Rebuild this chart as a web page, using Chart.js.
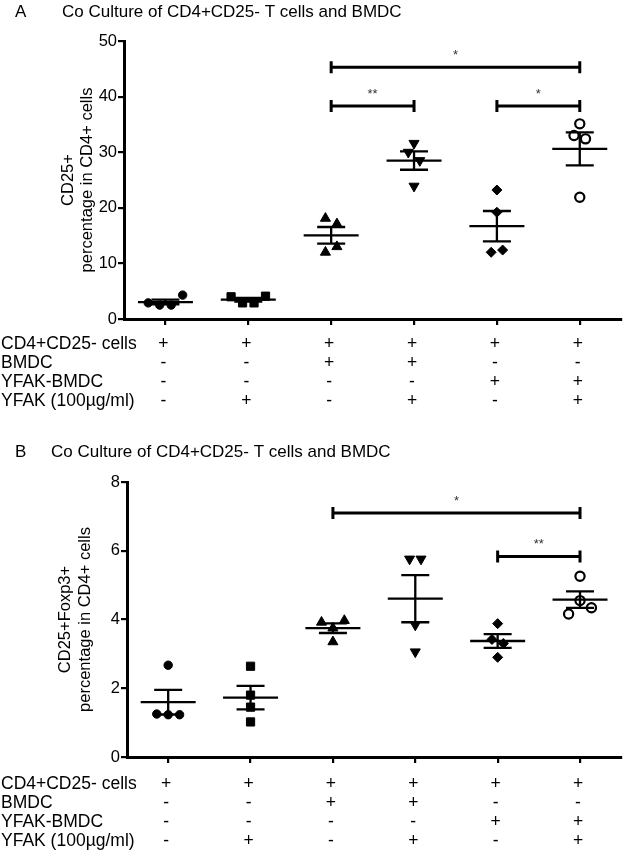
<!DOCTYPE html>
<html>
<head>
<meta charset="utf-8">
<script src="https://cdn.jsdelivr.net/npm/chart.js@4.4.1/dist/chart.umd.min.js"></script>
<style>
  body { margin: 0; background: #fff; width: 628px; height: 852px; overflow: hidden; }
  .panel { position: absolute; left: 0; width: 628px; height: 426px; }
</style>
</head>
<body>
<div class="panel" style="top:0"><canvas id="chartA"></canvas></div>
<div class="panel" style="top:426px"><canvas id="chartB"></canvas></div>
<script>
// --- data ---
const titleText = 'Co Culture of CD4+CD25- T cells and BMDC';
const conditions = ['CD4+CD25- cells', 'BMDC', 'YFAK-BMDC', 'YFAK (100µg/ml)'];
const conditionSigns = [
  ['+', '+', '+', '+', '+', '+'],
  ['-', '-', '+', '+', '-', '-'],
  ['-', '-', '-', '-', '+', '+'],
  ['-', '+', '-', '+', '-', '+']
];

// panel A: CD25+ % in CD4+ cells, one list per group
const cd25Values = [
  [2.9, 2.5, 2.5, 4.3],
  [4.0, 2.9, 2.9, 4.1],
  [18.1, 17.1, 12.0, 13.0],
  [31.6, 30.0, 28.5, 23.9],
  [23.2, 19.2, 12.0, 12.4],
  [35.1, 33.0, 32.4, 21.9]
];
const cd25Ticks = [0, 10, 20, 30, 40, 50];
const cd25Brackets = [
  { from: 2, to: 5, y: 45.3, label: '*' },
  { from: 2, to: 3, y: 38.3, label: '**' },
  { from: 4, to: 5, y: 38.3, label: '*' }
];

// panel B: CD25+Foxp3+ % in CD4+ cells
const foxp3Values = [
  [2.67, 1.25, 1.23, 1.23],
  [2.64, 1.80, 1.45, 1.02],
  [3.92, 3.75, 3.97, 3.35],
  [5.76, 5.76, 3.84, 3.06],
  [3.88, 3.42, 3.30, 2.90],
  [4.16, 4.55, 4.34, 5.26]
];
const foxp3Ticks = [0, 2, 4, 6, 8];
const foxp3Brackets = [
  { from: 2, to: 5, y: 7.1, label: '*' },
  { from: 4, to: 5, y: 5.83, label: '**' }
];

// marker per group
const markers = [
  { style: 'circle', radius: 4.2, rot: 0, fill: '#000' },
  { style: 'rect', radius: 5.8, rot: 0, fill: '#000' },
  { style: 'triangle', radius: 5.8, rot: 0, fill: '#000' },
  { style: 'triangle', radius: 5.8, rot: 180, fill: '#000' },
  { style: 'rectRot', radius: 5, rot: 0, fill: '#000' },
  { style: 'circle', radius: 4.6, rot: 0, fill: 'rgba(0,0,0,0)' }
];

const FONT = "'Liberation Sans', Arial, sans-serif";

// spread points that sit on top of each other (like a dot plot)
function spread(values, pxPerUnit) {
  const idx = values.map((v, i) => i).sort((a, b) => values[a] - values[b]);
  const offsets = values.map(() => 0);
  let bin = [idx[0]];
  const flush = () => {
    const m = bin.slice().sort((a, b) => a - b);
    m.forEach((k, j) => { offsets[k] = (j - (m.length - 1) / 2) * 11.5; });
  };
  for (let k = 1; k < idx.length; k++) {
    if ((values[idx[k]] - values[idx[k - 1]]) * pxPerUnit < 8.5) bin.push(idx[k]);
    else { flush(); bin = [idx[k]]; }
  }
  flush();
  return offsets;
}

function meanSem(vals) {
  const n = vals.length;
  const m = vals.reduce((a, b) => a + b, 0) / n;
  const sd = Math.sqrt(vals.reduce((a, b) => a + (b - m) * (b - m), 0) / (n - 1));
  return [m, sd / Math.sqrt(n)];
}

function makePanel(id, p) {
  const H = 426;
  const plotH = p.bottom - p.top;
  const plotW = 628 - p.right - p.left;
  const pxX = plotW / 6;
  const pxY = plotH / (p.ticks[p.ticks.length - 1] - p.ticks[0]);

  const datasets = p.values.map((vals, g) => {
    const off = spread(vals, pxY);
    const mk = markers[g];
    return {
      data: vals.map((v, k) => ({ x: g + off[k] / pxX, y: v })),
      pointStyle: mk.style,
      pointRadius: mk.radius,
      pointRotation: mk.rot,
      pointBackgroundColor: mk.fill,
      pointBorderColor: '#000',
      pointBorderWidth: g == 5 ? 2.2 : 1,
      showLine: false
    };
  });

  const decor = {
    id: 'decor' + id,
    afterDatasetsDraw(chart) {
      const ctx = chart.ctx, xs = chart.scales.x, ys = chart.scales.y;
      ctx.save();
      ctx.strokeStyle = '#000';
      ctx.lineWidth = 2.3;
      // mean +/- SEM
      p.values.forEach((vals, g) => {
        const [m, s] = meanSem(vals);
        const xc = xs.getPixelForValue(g);
        const ym = ys.getPixelForValue(m);
        const yt = ys.getPixelForValue(m + s), yb = ys.getPixelForValue(m - s);
        ctx.beginPath();
        ctx.moveTo(xc - 27.5, ym); ctx.lineTo(xc + 27.5, ym);
        ctx.moveTo(xc, yt); ctx.lineTo(xc, yb);
        ctx.moveTo(xc - 14, yt); ctx.lineTo(xc + 14, yt);
        ctx.moveTo(xc - 14, yb); ctx.lineTo(xc + 14, yb);
        ctx.stroke();
      });
      // significance brackets
      ctx.lineWidth = 3;
      ctx.fillStyle = '#333';
      ctx.font = '13px ' + FONT;
      ctx.textAlign = 'center';
      ctx.textBaseline = 'middle';
      p.brackets.forEach(b => {
        const x1 = xs.getPixelForValue(b.from), x2 = xs.getPixelForValue(b.to);
        const y = ys.getPixelForValue(b.y);
        ctx.beginPath();
        ctx.moveTo(x1, y); ctx.lineTo(x2, y);
        ctx.moveTo(x1, y - 6); ctx.lineTo(x1, y + 6);
        ctx.moveTo(x2, y - 6); ctx.lineTo(x2, y + 6);
        ctx.stroke();
        ctx.fillText(b.label, (x1 + x2) / 2, y - 12);
      });
      ctx.restore();
    },
    afterDraw(chart) {
      const ctx = chart.ctx, xs = chart.scales.x, ca = chart.chartArea;
      ctx.save();
      ctx.fillStyle = '#000';
      ctx.textBaseline = 'middle';
      // panel letter and title
      ctx.textAlign = 'left';
      ctx.font = '17px ' + FONT;
      ctx.fillText(p.letter, 15, p.titleY);
      ctx.fillText(titleText, p.titleX, p.titleY);
      // y axis title, two lines
      const yc = (ca.top + ca.bottom) / 2;
      ctx.font = '16.5px ' + FONT;
      ctx.textAlign = 'center';
      p.yTitle.forEach((t, k) => {
        ctx.save();
        ctx.translate(p.yTitleX[k], yc);
        ctx.rotate(-Math.PI / 2);
        ctx.fillText(t, 0, 0);
        ctx.restore();
      });
      // condition table
      ctx.font = '17.5px ' + FONT;
      conditions.forEach((c, r) => {
        const y = ca.bottom + p.rowStart + r * 19.2;
        ctx.textAlign = 'left';
        ctx.fillText(c, 1, y);
        ctx.textAlign = 'center';
        conditionSigns[r].forEach((s, g) => {
          ctx.fillText(s, xs.getPixelForValue(g) - 2, y);
        });
      });
      ctx.restore();
    }
  };

  return new Chart(document.getElementById(id), {
    type: 'scatter',
    data: { datasets },
    plugins: [decor],
    options: {
      responsive: true,
      maintainAspectRatio: false,
      devicePixelRatio: 1,
      animation: false,
      layout: { padding: { left: 0, top: p.top, right: p.right, bottom: H - p.bottom } },
      plugins: { legend: { display: false }, tooltip: { enabled: false } },
      scales: {
        x: {
          type: 'linear',
          min: -0.5,
          max: 5.5,
          afterBuildTicks: s => { s.ticks = [0, 1, 2, 3, 4, 5].map(v => ({ value: v })); },
          afterFit: s => { s.height = 0; },
          ticks: { callback: () => '', padding: 0 },
          grid: { drawOnChartArea: false, drawTicks: true, tickLength: 6, color: '#000', lineWidth: 2.2 },
          border: { display: true, color: '#000', width: 3 }
        },
        y: {
          min: p.ticks[0],
          max: p.ticks[p.ticks.length - 1],
          afterBuildTicks: s => { s.ticks = p.ticks.map(v => ({ value: v })); },
          afterFit: s => { s.width = p.left; },
          ticks: { color: '#000', font: { family: FONT, size: 16.5 }, padding: 1 },
          grid: { drawOnChartArea: false, drawTicks: true, tickLength: 6, color: '#000', lineWidth: 2.2 },
          border: { display: true, color: '#000', width: 3 }
        }
      }
    }
  });
}

makePanel('chartA', {
  letter: 'A', titleX: 62, titleY: 12,
  values: cd25Values, ticks: cd25Ticks, brackets: cd25Brackets,
  left: 124, right: 6, top: 41, bottom: 319,
  yTitle: ['CD25+', 'percentage in CD4+ cells'], yTitleX: [68, 87],
  rowStart: 25
});

makePanel('chartB', {
  letter: 'B', titleX: 51, titleY: 26,
  values: foxp3Values, ticks: foxp3Ticks, brackets: foxp3Brackets,
  left: 127, right: 3, top: 56, bottom: 331,
  yTitle: ['CD25+Foxp3+', 'percentage in CD4+ cells'], yTitleX: [65, 85],
  rowStart: 27
});
</script>
</body>
</html>
